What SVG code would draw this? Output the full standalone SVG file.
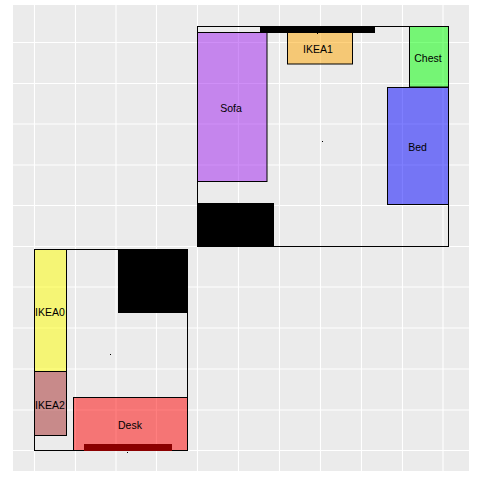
<svg xmlns="http://www.w3.org/2000/svg" width="480" height="480" viewBox="0 0 480 480">
<style>
.g{stroke:#fff;stroke-width:1.1;fill:none}
.o{stroke:#000;stroke-width:1;fill:none}
.f{stroke:#000;stroke-width:1;fill-opacity:.5}
.k{fill:#000}
text{font-family:"Liberation Sans",Arial,sans-serif;font-size:10.5px;fill:#000;text-anchor:middle}
</style>
<rect width="480" height="480" fill="#fff"/>
<rect x="13" y="5" width="456" height="466" fill="#ebebeb"/>
<g id="grid" class="g">
<path d="M34.5 5V471M75.5 5V471M116 5V471M156.5 5V471M197.5 5V471M238.5 5V471M279.5 5V471M320.5 5V471M361.5 5V471M402.5 5V471M443 5V471"/>
<path d="M13 42.5H469M13 83.5H469M13 124H469M13 165H469M13 205.5H469M13 246.5H469M13 287H469M13 328H469M13 369H469M13 410H469M13 450.5H469"/>
</g>
<g id="room1"><rect class="o" x="197.5" y="26.5" width="251" height="220"/><rect x="322" y="141" width="1" height="1" class="k"/></g>
<g id="room2"><rect class="o" x="34.5" y="249.5" width="153" height="201"/><rect x="110" y="354" width="1" height="1" class="k"/><rect x="127" y="452" width="1" height="1" class="k"/></g>
<g id="sofa"><rect class="f" x="197.5" y="32.5" width="69.500" height="149" fill="#a020f0"/><text x="231" y="112">Sofa</text></g>
<g id="ikea1"><rect class="f" x="287.500" y="32.500" width="65" height="31.500" fill="#ffa500"/><rect x="317" y="33" width="1" height="1" class="k"/><text x="318" y="53">IKEA1</text></g>
<g id="chest"><rect class="f" x="409.500" y="26.500" width="39" height="60.500" fill="#0f0"/><text x="428" y="62">Chest</text></g>
<g id="bed"><rect class="f" x="387.500" y="87.500" width="61" height="117" fill="#00f"/><text x="417.500" y="151">Bed</text></g>
<g id="wall1"><rect class="k" x="260" y="26" width="115" height="7"/></g>
<g id="block1"><rect class="k" x="197" y="203" width="77" height="44"/></g>
<g id="ikea0"><rect class="f" x="34.500" y="249.500" width="32" height="122" fill="#ff0"/><text x="50" y="316">IKEA0</text></g>
<g id="ikea2"><rect class="f" x="34.500" y="371.500" width="32" height="64" fill="#a52a2a"/><text x="50" y="409">IKEA2</text></g>
<g id="desk"><rect class="f" x="73.500" y="397.500" width="114" height="53" fill="#f00"/><text x="130" y="429">Desk</text></g>
<g id="bar2"><rect x="84" y="444" width="88" height="7" fill="#8b0000"/></g>
<g id="block2"><rect class="k" x="118" y="249" width="70" height="64"/></g>
</svg>
